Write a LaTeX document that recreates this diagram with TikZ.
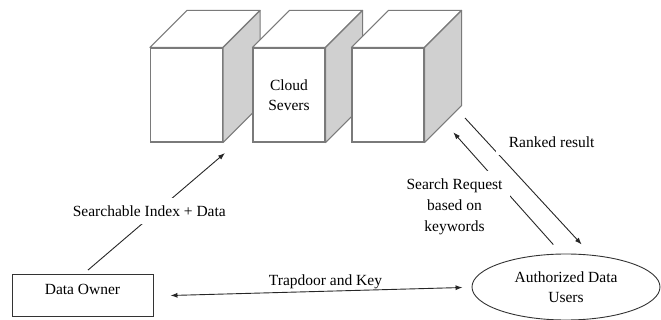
\documentclass[tikz,border=0pt]{standalone}
\usepackage{fontspec}
\setmainfont{Liberation Serif}
\usetikzlibrary{arrows.meta,calc,shapes.geometric}
\definecolor{sidegray}{HTML}{D0D0D0}
\definecolor{edgegray}{HTML}{7A7A7A}
\tikzset{
  front/.style={draw=edgegray,line width=1.1pt,fill=white,minimum width=72pt,minimum height=94pt,inner sep=0pt,align=center,
    font=\fontsize{15.5}{20.5}\selectfont},
  face/.style={draw=edgegray,line width=1.1pt,line join=round},
  arr/.style={draw=black!85,line width=0.9pt,-{Latex[length=7pt,width=5pt]}},
  arrtwo/.style={draw=black!85,line width=0.9pt,{Latex[length=7pt,width=5pt]}-{Latex[length=7pt,width=5pt]}},
  lbl/.style={fill=white,inner sep=8pt,align=center,font=\fontsize{15.5}{21}\selectfont},
  ownbox/.style={draw=black!80,line width=0.9pt,minimum width=141pt,minimum height=42pt,text height=10pt,text depth=12pt,
    font=\fontsize{15.5}{17}\selectfont},
  usrell/.style={draw=black!80,line width=0.9pt,ellipse,minimum width=188pt,minimum height=66pt,align=center,inner sep=0pt,
    font=\fontsize{15.5}{20.5}\selectfont}
}
\begin{document}
\begin{tikzpicture}[x=1pt,y=-1pt]
\useasboundingbox (0,0) rectangle (661,320);
% cubes
\foreach \n/\cx/\txt in {c1/186.5/{}, c2/289/{Cloud\\Severs}, c3/388/{}}{
  \node[front] (\n) at (\cx,95) {\txt};
  \draw[face,fill=white] (\n.north west) -- ++(37,-37) -- ($(\n.north east)+(37,-37)$) -- (\n.north east) -- cycle;
  \draw[face,fill=sidegray] (\n.north east) -- ++(37,-37) -- ($(\n.south east)+(37,-37)$) -- (\n.south east) -- cycle;
}
% data owner and users
\node[ownbox] (own) at (82.5,295.5) {Data Owner};
\node[usrell] (usr) at (566,287) {Authorized Data\\Users};
% connector endpoints
\coordinate (sidx) at (225,153);
\coordinate (rkstart) at (465,118);
\coordinate (sqend) at (453.3,132.3);
% connectors
\draw[arr] ($(own.north)+(5.5,-4)$) -- (sidx);
\draw[arrtwo] ([xshift=17pt]own.east) -- ([xshift=-9pt,yshift=-0.5pt]usr.west);
\draw[arr] (rkstart) -- ($(usr.north)+(15.7,-9)$);
\draw[arr] ($(usr.north)+(-12.7,-9)$) -- (sqend);
% labels
\node[lbl] (l1) at (149.3,211) {Searchable Index + Data};
\node[font=\fontsize{15.5}{17}\selectfont] (l2) at (325.5,281.5) {Trapdoor and Key};
\node[lbl,inner xsep=13pt] (l3) at (551.7,142) {Ranked result};
\node[lbl] (l4) at (454.5,207) {Search Request\\based on\\keywords};
\end{tikzpicture}
\end{document}
